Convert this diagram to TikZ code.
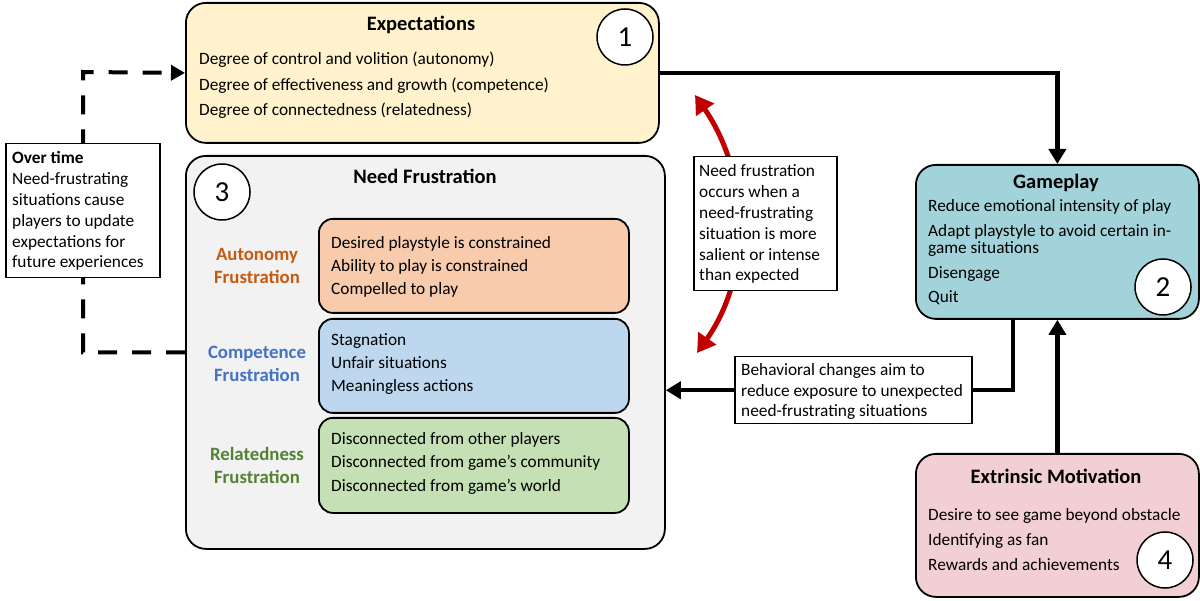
\documentclass[tikz,border=0pt]{standalone}
\usepackage{fontspec}
\setmainfont{Carlito}
\usetikzlibrary{arrows.meta}
\definecolor{expfill}{HTML}{FFF2CC}
\definecolor{nffill}{HTML}{F2F2F2}
\definecolor{autfill}{HTML}{F8CBAD}
\definecolor{comfill}{HTML}{BDD7EE}
\definecolor{relfill}{HTML}{C5E0B4}
\definecolor{gpfill}{RGB}{162,211,219}
\definecolor{emfill}{RGB}{242,207,210}
\definecolor{autcol}{HTML}{C55A11}
\definecolor{comcol}{HTML}{4472C4}
\definecolor{relcol}{HTML}{548235}
\definecolor{redarr}{HTML}{C00000}
\pgfdeclarelayer{bg}
\pgfsetlayers{bg,main}
\tikzset{
 bigbox/.style={draw, line width=1.8pt, rounded corners=20pt, anchor=north west, inner sep=0pt},
 subbox/.style={draw, line width=1.8pt, rounded corners=14pt, anchor=north west, inner sep=0pt, minimum width=310pt},
 notebox/.style={draw, line width=1.5pt, fill=white, anchor=north west, inner sep=0pt},
 ttl/.style={font=\fontsize{20.5}{24}\selectfont\bfseries, anchor=base, inner sep=0pt},
 bodytext/.style={font=\fontsize{17.3}{17}\selectfont, align=left, anchor=base west, inner sep=0pt},
 notetext/.style={font=\fontsize{17.3}{20.8}\selectfont, align=left, anchor=base west, inner sep=0pt},
 lbl/.style={font=\fontsize{18.8}{23}\selectfont\bfseries, align=center, anchor=base, inner sep=0pt},
 numcirc/.style={draw, circle, fill=white, line width=1.5pt, minimum size=56pt, inner sep=0pt, font=\fontsize{29}{29}\selectfont},
 flow/.style={line width=4.5pt, -{Triangle[length=15pt,width=17pt]}},
 backflow/.style={line width=4pt, dash pattern=on 19pt off 15pt, -{Triangle[length=14pt,width=15pt]}},
 redflow/.style={line width=5pt, draw=redarr, {Triangle[length=18pt,width=21pt]}-{Triangle[length=18pt,width=21pt]}},
}
\begin{document}
\begin{tikzpicture}[x=1pt,y=-1pt]
\useasboundingbox (0,0) rectangle (1200,601);

% main boxes
\node[bigbox, fill=expfill, minimum width=473pt, minimum height=140pt] (exp) at (185,2) {};
\node[bigbox, fill=nffill, minimum width=479pt, minimum height=393pt] (nf) at (185,155) {};
\node[bigbox, fill=gpfill, minimum width=283pt, minimum height=154pt] (gp) at (915,164) {};
\node[bigbox, fill=emfill, minimum width=283pt, minimum height=143pt] (em) at (915,453) {};
\node[subbox, fill=autfill, minimum height=94pt] (aut) at (318,218) {};
\node[subbox, fill=comfill, minimum height=94pt] (com) at (318,318) {};
\node[subbox, fill=relfill, minimum height=95pt] (rel) at (318,417) {};

% note boxes
\node[notebox, minimum width=154pt, minimum height=134pt] (note) at (5,143) {};
\node[notebox, minimum width=143pt, minimum height=134pt] (rnote) at (693,156) {};
\node[notebox, minimum width=237pt, minimum height=67pt] (bc) at (734,356) {};

\coordinate (dcorner) at (83,72);
\coordinate (rt) at (695,95);
\coordinate (rb) at (697,353);

% connectors
\begin{pgfonlayer}{bg}
\draw[flow] (exp.east) -| (gp.north);
\draw[flow] (em.north) -- (gp.south);
\draw[flow] ([xshift=-44.5pt]gp.south) |- (nf.east |- bc.center);
\draw[backflow] (nf.west) -| (dcorner) -- (exp.west);
\draw[redflow] (rt) .. controls (750,175) and (752,275) .. (rb);
\end{pgfonlayer}

% texts (multi-line nodes are placed by the baseline of their last line)
\node[ttl] (expt) at (421,31) {Expectations};
\node[bodytext] (expl) at (199,116) {Degree of control and volition (autonomy)\\[8.5pt]Degree of effectiveness and growth (competence)\\[8.5pt]Degree of connectedness (relatedness)};
\node[numcirc] (c1) at (625,37) {1};

\node[ttl] (gpt) at (1056,189) {Gameplay};
\node[bodytext] (gpl) at (928,303) {Reduce emotional intensity of play\\[8.5pt]Adapt playstyle to avoid certain in-\\game situations\\[8pt]Disengage\\[7pt]Quit};
\node[numcirc] (c2) at (1163,287) {2};

\node[ttl] (emt) at (1056,484) {Extrinsic Motivation};
\node[bodytext] (eml) at (928,570) {Desire to see game beyond obstacle\\[8pt]Identifying as fan\\[8pt]Rewards and achievements};
\node[numcirc] (c4) at (1165,560) {4};

\node[ttl] (nft) at (425,184) {Need Frustration};
\node[numcirc] (c3) at (222,192) {3};

\node[lbl, text=autcol] (autl) at (257,284) {Autonomy\\Frustration};
\node[lbl, text=comcol] (coml) at (257,382) {Competence\\Frustration};
\node[lbl, text=relcol] (rell) at (257,483) {Relatedness\\Frustration};

\node[bodytext] (autt) at (331,295) {Desired playstyle is constrained\\[6.3pt]Ability to play is constrained\\[6.3pt]Compelled to play};
\node[bodytext] (comt) at (331,392) {Stagnation\\[6.3pt]Unfair situations\\[6.3pt]Meaningless actions};
\node[bodytext] (relt) at (331,491) {Disconnected from other players\\[6.3pt]Disconnected from game’s community\\[6.3pt]Disconnected from game’s world};

\node[notetext] (notet) at (12,268) {\textbf{Over time}\\Need-frustrating\\situations cause\\players to update\\expectations for\\future experiences};
\node[notetext] (rnotet) at (699,281) {Need frustration\\occurs when a\\need-frustrating\\situation is more\\salient or intense\\than expected};
\node[notetext] (bct) at (741,417) {Behavioral changes aim to\\reduce exposure to unexpected\\need-frustrating situations};
\end{tikzpicture}
\end{document}
